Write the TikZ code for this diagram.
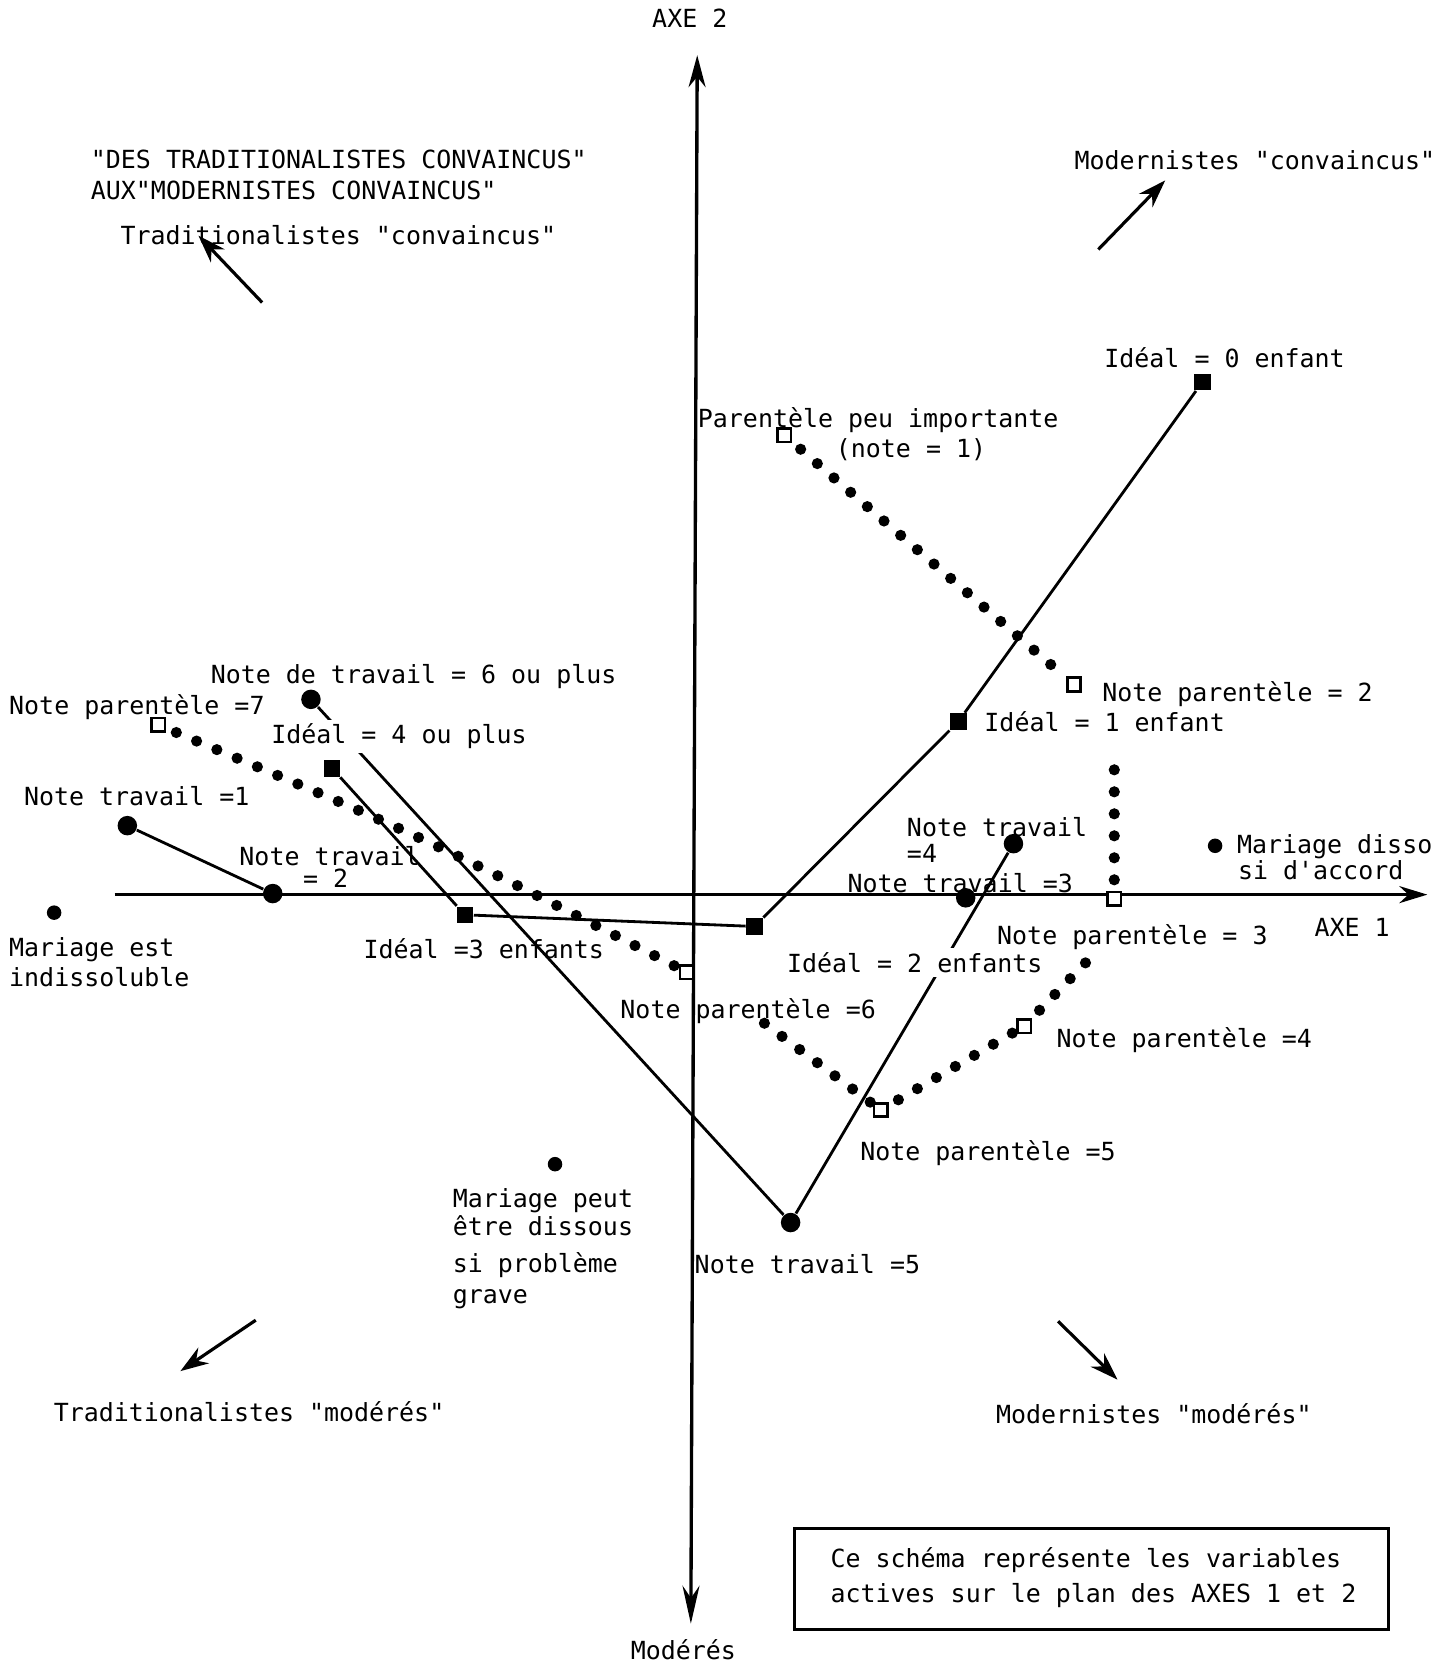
\documentclass[tikz,border=0pt]{standalone}
\usepackage{fontspec}
\newfontfamily\plotfont{DejaVu Sans Mono}[Ligatures=TeXOff]
\usetikzlibrary{arrows.meta}
\begin{document}
\begin{tikzpicture}[x=0.10614mm, y=-0.10614mm,
  every node/.style={font=\plotfont\fontsize{7.1}{8.5}\selectfont, inner sep=0pt},
  lbl/.style={anchor=base west},
  lblw/.style={anchor=base west, fill=white, inner xsep=0pt, inner ysep=1.2pt},
  conn/.style={line width=0.8pt},
  axisline/.style={line width=0.95pt},
  dotline/.style={line width=1.12mm, line cap=round, dash pattern=on 0pt off 2.2mm, dash phase=1.1mm},
  fsq/.style={rectangle, fill=black, minimum size=1.65mm},
  osq/.style={rectangle, draw=black, fill=white, line width=0.75pt, minimum size=1.35mm},
  bdot/.style={circle, fill=black, minimum size=1.95mm},
  mdot/.style={circle, fill=black, minimum size=1.45mm},
  qarrow/.style={line width=0.9pt, -{Stealth[length=2.8mm, width=1.9mm]}}
]
\useasboundingbox (0,0) rectangle (1351,1568);

% axes
\coordinate (hx0) at (108,843);
\coordinate (hx1) at (1345,843);
\coordinate (vy0) at (651,1530);
\coordinate (vy1) at (657,52);
\draw[axisline, -{Stealth[length=2.8mm, width=1.7mm]}] (hx0) -- (hx1);
\draw[axisline, {Stealth[length=3.8mm, width=1.7mm]}-{Stealth[length=3.2mm, width=1.7mm]}] (vy0) -- (vy1);

% markers: Idéal (filled squares)
\node[fsq] (f0) at (1133,360) {};
\node[fsq] (f1) at (903,680) {};
\node[fsq] (f2) at (711,873) {};
\node[fsq] (f3) at (438,862) {};
\node[fsq] (f4) at (313,724) {};
% markers: parentèle (open squares)
\node[osq] (o1) at (739,410) {};
\node[osq] (o2) at (1012,645) {};
\node[osq] (o3) at (1050,847) {};
\node[osq] (o4) at (965,967) {};
\node[osq] (o5) at (830,1046) {};
\node[osq] (o6) at (647,916) {};
\node[osq] (o7) at (149,683) {};
% markers: travail (big dots)
\node[bdot] (t1) at (120,778) {};
\node[bdot] (t2) at (257,842) {};
\node[bdot] (t3) at (910,846) {};
\node[bdot] (t4) at (955,795) {};
\node[bdot] (t5) at (745,1152) {};
\node[bdot] (t6) at (293,659) {};
% markers: mariage
\node[mdot] (m1) at (51,860) {};
\node[mdot] (m2) at (523,1097) {};
\node[mdot] (m3) at (1145,797) {};

% free ends of dotted chains
\coordinate (p6b) at (712,958);
\coordinate (p4b) at (1028,902);
\coordinate (p3b) at (1050,712);

% dotted chains
\draw[dotline] (o1) -- (o2);
\draw[dotline] (o7) .. controls (400,789) .. (o6);
\draw[dotline] (p6b) -- (o5);
\draw[dotline] (o5) -- (o4);
\draw[dotline] (o4) -- (p4b);
\draw[dotline] (o3) -- (p3b);

% solid connectors
\draw[conn] (t1) -- (t2);
\draw[conn] (f0) -- (f1) -- (f2) -- (f3) -- (f4);
\draw[conn] (t6) -- (t5) -- (t4);

% quadrant arrows
\coordinate (qa0) at (247,285); \coordinate (qa1) at (187,222);
\coordinate (qb0) at (1035,235); \coordinate (qb1) at (1098,170);
\coordinate (qc0) at (241,1244); \coordinate (qc1) at (170,1292);
\coordinate (qd0) at (997,1245); \coordinate (qd1) at (1053,1300);
\draw[qarrow] (qa0) -- (qa1);
\draw[qarrow] (qb0) -- (qb1);
\draw[qarrow] (qc0) -- (qc1);
\draw[qarrow] (qd0) -- (qd1);

% labels
\node[anchor=base] (axe2) at (650,26) {AXE 2};
\node[lbl] (tdes) at (85,159) {"DES TRADITIONALISTES CONVAINCUS"};
\node[lbl] (taux) at (85,188) {AUX"MODERNISTES CONVAINCUS"};
\node[lbl] (ttc) at (113,230) {Traditionalistes "convaincus"};
\node[lbl] (tmc) at (1012,160) {Modernistes "convaincus"};
\node[lbl] (li0) at (1040,346) {Idéal = 0 enfant};
\node[lbl] (lp1a) at (657,403) {Parentèle peu importante};
\node[lbl] (lp1b) at (787,431) {(note = 1)};
\node[lbl] (lp2) at (1038,661) {Note parentèle = 2};
\node[lbl] (li1) at (927,689) {Idéal = 1 enfant};
\node[lbl] (lt6) at (198,644) {Note de travail = 6 ou plus};
\node[lbl] (lp7) at (8,673) {Note parentèle =7};
\node[lblw] (li4) at (255,701) {Idéal = 4 ou plus};
\node[lbl] (lt1) at (22,759) {Note travail =1};
\node[lbl] (lt2a) at (225,816) {Note travail};
\node[lbl] (lt2b) at (285,836) {= 2};
\node[lbl] (lm1a) at (8,901) {Mariage est};
\node[lbl] (lm1b) at (8,930) {indissoluble};
\node[lbl] (li3) at (342,903) {Idéal =3 enfants};
\node[lbl] (lp6) at (584,960) {Note parentèle =6};
\node[lbl] (lt4a) at (854,788) {Note travail};
\node[lbl] (lt4b) at (854,813) {=4};
\node[lbl] (lt3) at (798,841) {Note travail =3};
\node[lbl] (lm3a) at (1165,804) {Mariage dissous};
\node[lbl] (lm3b) at (1166,829) {si d'accord};
\node[lbl] (laxe1) at (1238,882) {AXE 1};
\node[lbl] (lp3) at (939,890) {Note parentèle = 3};
\node[lblw] (li2) at (741,916) {Idéal = 2 enfants};
\node[lbl] (lp4) at (995,987) {Note parentèle =4};
\node[lbl] (lp5) at (810,1094) {Note parentèle =5};
\node[lbl] (lm2a) at (426,1138) {Mariage peut};
\node[lbl] (lm2b) at (426,1164) {être dissous};
\node[lbl] (lm2c) at (426,1199) {si problème};
\node[lbl] (lm2d) at (426,1228) {grave};
\node[lbl] (lt5) at (654,1200) {Note travail =5};
\node[lbl] (ltm) at (50,1339) {Traditionalistes "modérés"};
\node[lbl] (lmm) at (938,1341) {Modernistes "modérés"};
\node[anchor=base] (lmod) at (644,1564) {Modérés};

% note box
\node[draw, line width=0.85pt, minimum width=59.5mm, minimum height=10.1mm] (box) at (1028.5,1487.5) {};
\node[lbl] (bx1) at (782,1477) {Ce schéma représente les variables};
\node[lbl] (bx2) at (782,1510) {actives sur le plan des AXES 1 et 2};
\end{tikzpicture}
\end{document}
